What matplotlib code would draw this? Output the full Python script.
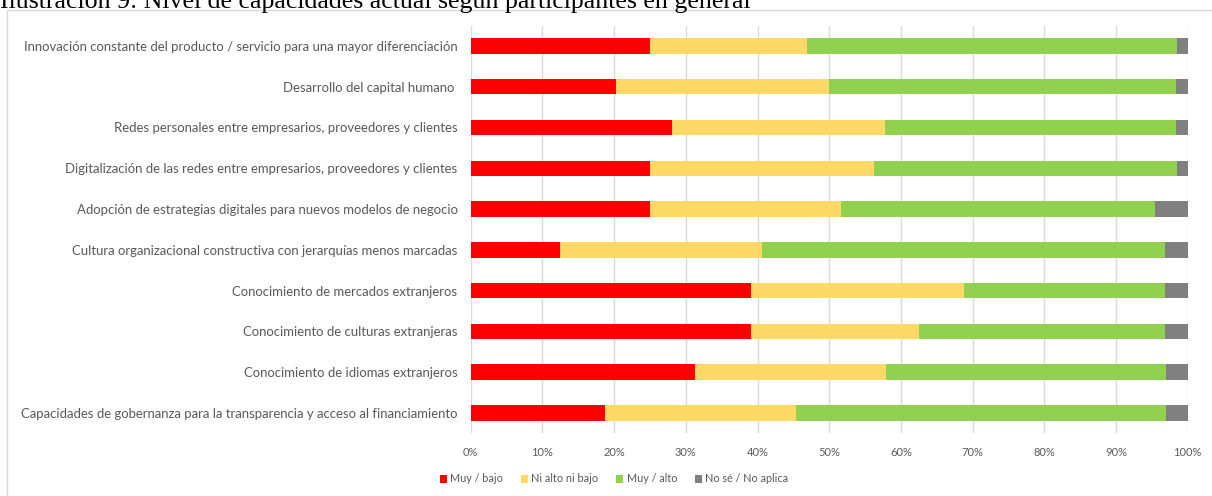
import matplotlib
matplotlib.use("Agg")
import matplotlib.pyplot as plt
from matplotlib.patches import Rectangle
from matplotlib.ticker import FuncFormatter, MultipleLocator

categories = [
    "Innovación constante del producto / servicio para una mayor diferenciación",
    "Desarrollo del capital humano ",
    "Redes personales entre empresarios, proveedores y clientes",
    "Digitalización de las redes entre empresarios, proveedores y clientes",
    "Adopción de estrategias digitales para nuevos modelos de negocio",
    "Cultura organizacional constructiva con jerarquías menos marcadas",
    "Conocimiento de mercados extranjeros",
    "Conocimiento de culturas extranjeras",
    "Conocimiento de idiomas extranjeros",
    "Capacidades de gobernanza para la transparencia y acceso al financiamiento",
]
muy_bajo = [25.0, 20.3, 28.1, 25.0, 25.0, 12.5, 39.1, 39.1, 31.3, 18.8]
ni_alto_ni_bajo = [21.9, 29.7, 29.7, 31.3, 26.6, 28.1, 29.7, 23.4, 26.6, 26.6]
muy_alto = [51.6, 48.4, 40.6, 42.2, 43.8, 56.3, 28.1, 34.4, 39.1, 51.6]
no_sabe = [1.5, 1.6, 1.6, 1.5, 4.6, 3.1, 3.1, 3.1, 3.0, 3.0]

series_names = ["Muy / bajo", "Ni alto ni bajo", "Muy / alto", "No sé / No aplica"]
series_values = [muy_bajo, ni_alto_ni_bajo, muy_alto, no_sabe]
colors = ["#FF0000", "#FFD966", "#92D050", "#808080"]

title = "Ilustración 9: Nivel de capacidades actual según participantes en general"

W, H = 1212, 496
fig = plt.figure(figsize=(W / 100, H / 100), dpi=100)

# chart area border (extends past right and bottom edges)
fig.add_artist(Rectangle((7 / W, -0.1), 1.2, 1 - 9.5 / H + 0.1, transform=fig.transFigure,
                         fill=False, edgecolor="#D9D9D9", linewidth=1.0))

ax = fig.add_axes([470.7 / W, 1 - 433.4 / H, 717 / W, (433.4 - 25.5) / H])

n = len(categories)
ypos = list(range(n))
left = [0.0] * n
for name, vals, col in zip(series_names, series_values, colors):
    ax.barh(ypos, vals, left=left, height=0.38, color=col, label=name, zorder=3)
    left = [a + b for a, b in zip(left, vals)]

ax.set_xlim(0, 100)
ax.set_ylim(n - 0.5, -0.5)
ax.xaxis.set_major_locator(MultipleLocator(10))
ax.xaxis.set_major_formatter(FuncFormatter(lambda v, p: f"{int(round(v))}%"))
ax.grid(axis="x", color="#D9D9D9", linewidth=1.0, zorder=0)
ax.set_yticks(ypos)
ax.set_yticklabels(categories)
for s in ax.spines.values():
    s.set_visible(False)
ax.tick_params(axis="both", length=0, colors="#595959")
ax.tick_params(axis="y", pad=9.5, labelsize=9.45, labelcolor="#595959")
ax.tick_params(axis="x", pad=10, labelsize=8, labelcolor="#595959")
for lab in ax.get_yticklabels():
    lab.set_family("Lato")
for lab in ax.get_xticklabels():
    lab.set_family("Lato")

leg = fig.legend(loc="center", bbox_to_anchor=(614 / W, 1 - 479 / H), ncol=4, frameon=False,
                 handlelength=0.7, handleheight=0.7, handletextpad=0.3, columnspacing=1.6,
                 prop={"family": "Lato", "size": 7.8})
for t in leg.get_texts():
    t.set_color("#595959")

# title: partly cropped at the top edge, as in the reference
fig.text(0, 1 - 8 / H, title, ha="left", va="baseline", family="Liberation Serif",
         fontsize=18.6, color="#000000")

fig.savefig("out.png", dpi=100)
